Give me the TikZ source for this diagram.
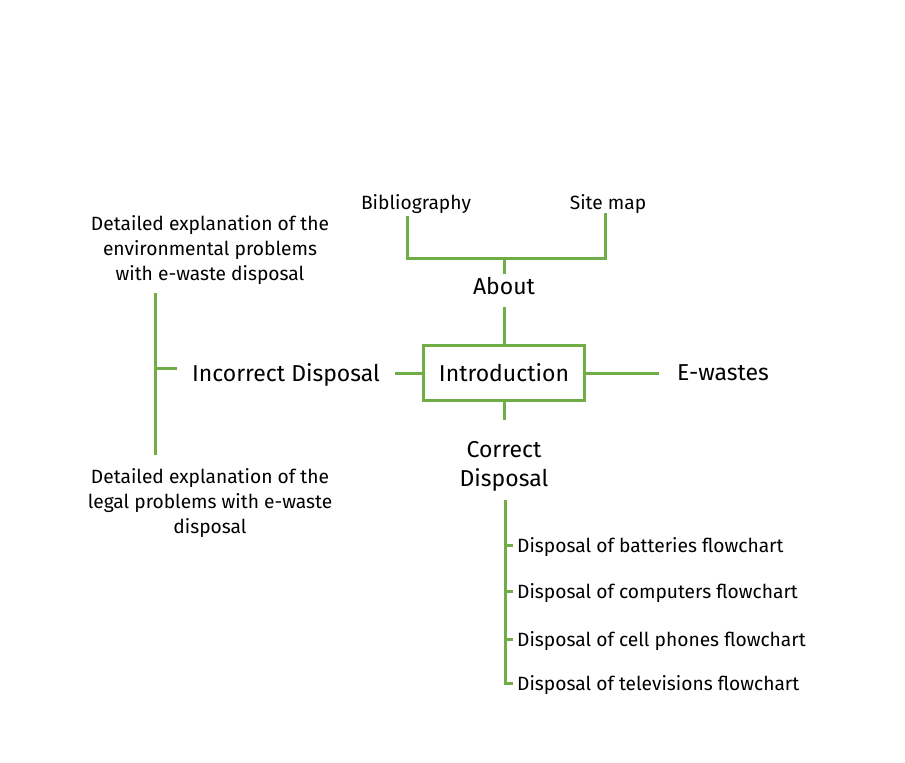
\documentclass[tikz,border=0pt]{standalone}
\usepackage{fontspec}
\setmainfont{Fira Sans}
\definecolor{leafgreen}{RGB}{112,173,71}
\tikzset{
  link/.style={draw=leafgreen, line width=3pt},
  mainlbl/.style={inner sep=0pt, text depth=0pt, font=\fontsize{23}{29}\selectfont, align=center},
  sublbl/.style={inner sep=0pt, text depth=0pt, font=\fontsize{19.2}{25}\selectfont, align=center},
  topicbox/.style={draw=leafgreen, line width=3pt, minimum width=161pt, minimum height=55pt}
}
\begin{document}
\begin{tikzpicture}[x=1pt,y=-1pt]
  \useasboundingbox (0,0) rectangle (905,763);
  % centre and main topics
  \node[mainlbl, topicbox] (intro) at (504,373) {Introduction};
  \node[mainlbl] (about) at (504,286) {About};
  \node[mainlbl] (ewastes) at (723,373) {E-wastes};
  \node[mainlbl] (incorrect) at (286,373) {Incorrect Disposal};
  \node[mainlbl] (correct) at (504,464) {Correct\\Disposal};
  % sub topics
  \node[sublbl] (biblio) at (416,202) {Bibliography};
  \node[sublbl] (sitemap) at (608,202) {Site map};
  \node[sublbl] (envprob) at (210,248) {Detailed explanation of the\\environmental problems\\with e-waste disposal};
  \node[sublbl] (legalprob) at (210,501) {Detailed explanation of the\\legal problems with e-waste\\disposal};
  \node[sublbl, anchor=west] (batteries) at (517,545) {Disposal of batteries flowchart};
  \node[sublbl, anchor=west] (computers) at (517,591) {Disposal of computers flowchart};
  \node[sublbl, anchor=west] (phones) at (517,639) {Disposal of cell phones flowchart};
  \node[sublbl, anchor=west] (tvs) at (517,683) {Disposal of televisions flowchart};
  % connectors
  \draw[link] (intro.north) -- ([shift={(0,21)}]about.center);
  \draw[link] ([shift={(0,-12)}]about.center) -- ([shift={(0,-28)}]about.center);
  \draw[link] ([shift={(-9,14)}]biblio.center) |- ([shift={(-3,56)}]sitemap.center) -- ([shift={(-3,11)}]sitemap.center);
  \draw[link] (intro.east) -- ([shift={(-64,0)}]ewastes.center);
  \draw[link] (intro.west) -- ([shift={(109,0)}]incorrect.center);
  \draw[link] ([shift={(-55,45)}]envprob.center) -- ([shift={(-55,-46)}]legalprob.center);
  \draw[link] ([shift={(-109,-5)}]incorrect.center) -- ++(-22,0);
  \draw[link] (intro.south) -- ([shift={(0,-44)}]correct.center);
  \draw[link] ([shift={(1,36)}]correct.center) |- ([xshift=-4pt]tvs.west);
  \foreach \n in {batteries,computers,phones}
    \draw[link] ([xshift=-12pt]\n.west) -- ([xshift=-4pt]\n.west);
\end{tikzpicture}
\end{document}
